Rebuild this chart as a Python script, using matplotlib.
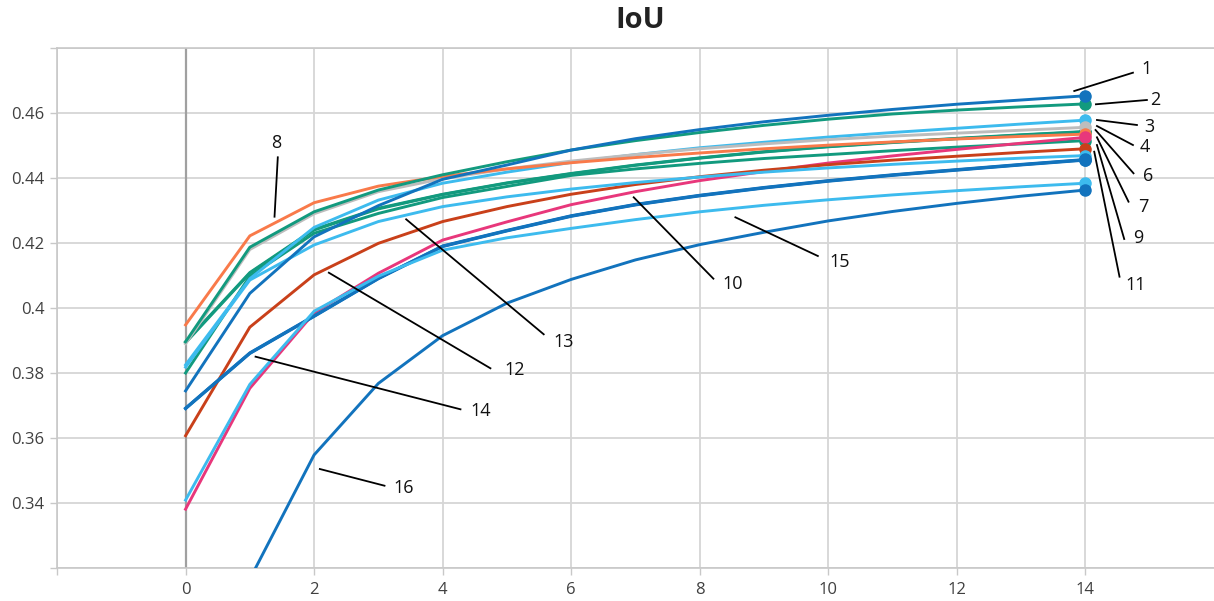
import matplotlib
matplotlib.use("Agg")
import matplotlib.pyplot as plt

# ---------------- data ----------------
epochs = list(range(15))

s1 = [0.3745, 0.4045, 0.4219, 0.4315, 0.4396, 0.4440, 0.4486, 0.4521, 0.4549, 0.4573, 0.4593, 0.4611, 0.4627, 0.4640, 0.4653]
s2 = [0.3896, 0.4187, 0.4296, 0.4363, 0.4410, 0.4450, 0.4486, 0.4515, 0.4540, 0.4562, 0.4581, 0.4597, 0.4609, 0.4619, 0.4628]
s3 = [0.3825, 0.4090, 0.4248, 0.4332, 0.4384, 0.4418, 0.4448, 0.4472, 0.4493, 0.4510, 0.4526, 0.4540, 0.4553, 0.4566, 0.4578]
s4 = [0.3890, 0.4180, 0.4290, 0.4358, 0.4398, 0.4428, 0.4452, 0.4472, 0.4490, 0.4505, 0.4518, 0.4529, 0.4538, 0.4547, 0.4556]
s5 = [0.3893, 0.4107, 0.4240, 0.4305, 0.4349, 0.4384, 0.4413, 0.4439, 0.4461, 0.4480, 0.4496, 0.4509, 0.4521, 0.4532, 0.4542]
s6 = [0.3896, 0.4109, 0.4242, 0.4307, 0.4350, 0.4385, 0.4414, 0.4440, 0.4462, 0.4481, 0.4497, 0.4510, 0.4522, 0.4533, 0.4543]
s7 = [0.3381, 0.3753, 0.3985, 0.4107, 0.4209, 0.4265, 0.4318, 0.4358, 0.4392, 0.4420, 0.4446, 0.4468, 0.4488, 0.4507, 0.4525]
s8 = [0.3948, 0.4222, 0.4324, 0.4375, 0.4405, 0.4428, 0.4447, 0.4463, 0.4477, 0.4490, 0.4501, 0.4511, 0.4520, 0.4528, 0.4535]
s9 = [0.3800, 0.4098, 0.4230, 0.4291, 0.4340, 0.4374, 0.4408, 0.4428, 0.4445, 0.4460, 0.4472, 0.4484, 0.4495, 0.4505, 0.4515]
s10 = [0.3691, 0.3861, 0.3975, 0.4091, 0.4190, 0.4238, 0.4283, 0.4318, 0.4346, 0.4370, 0.4391, 0.4409, 0.4425, 0.4441, 0.4456]
s11 = [0.3692, 0.3862, 0.3976, 0.4092, 0.4191, 0.4239, 0.4284, 0.4319, 0.4347, 0.4371, 0.4392, 0.4410, 0.4426, 0.4442, 0.4457]
s12 = [0.3607, 0.3941, 0.4102, 0.4199, 0.4266, 0.4312, 0.4350, 0.4380, 0.4404, 0.4424, 0.4441, 0.4455, 0.4467, 0.4479, 0.4490]
s13 = [0.3818, 0.4086, 0.4194, 0.4266, 0.4312, 0.4342, 0.4366, 0.4386, 0.4403, 0.4418, 0.4431, 0.4442, 0.4452, 0.4461, 0.4469]
s14 = [0.3690, 0.3860, 0.3974, 0.4090, 0.4189, 0.4237, 0.4282, 0.4317, 0.4345, 0.4369, 0.4390, 0.4408, 0.4424, 0.4440, 0.4455]
s15 = [0.3409, 0.3765, 0.3990, 0.4098, 0.4178, 0.4216, 0.4245, 0.4272, 0.4296, 0.4316, 0.4333, 0.4348, 0.4361, 0.4373, 0.4384]
s16 = [0.2850, 0.3166, 0.3548, 0.3768, 0.3915, 0.4015, 0.4088, 0.4148, 0.4195, 0.4233, 0.4268, 0.4297, 0.4322, 0.4344, 0.4363]

series_names = [str(i) for i in range(1, 17)]
series_values = [s1, s2, s3, s4, s5, s6, s7, s8, s9, s10, s11, s12, s13, s14, s15, s16]

x_tick_values = [-2, 0, 2, 4, 6, 8, 10, 12, 14]
x_tick_labels = ["", "0", "2", "4", "6", "8", "10", "12", "14"]
y_tick_values = [0.32, 0.34, 0.36, 0.38, 0.40, 0.42, 0.44, 0.46, 0.48]
y_tick_labels = ["", "0.34", "0.36", "0.38", "0.4", "0.42", "0.44", "0.46", ""]

# ---------------- styles ----------------
BLUE = "#1273BD"
TEAL = "#129A7E"
LBLUE = "#3DBBEE"
GREY = "#BDBDBD"
ORANGE = "#F97A4A"
PINK = "#E8377B"
RED = "#C9401A"
series_colors = [BLUE, TEAL, LBLUE, GREY, TEAL, TEAL, PINK, ORANGE, TEAL,
                 BLUE, BLUE, RED, LBLUE, BLUE, LBLUE, BLUE]
draw_order = [4, 5, 8, 2, 3, 7, 6, 11, 12, 9, 10, 13, 14, 15, 1, 0]

# label layout: (series, line start, line end, text position) in data coords
label_layout = [
    ("1", (13.826, 0.46677), (14.739, 0.47240), (14.946, 0.47345)),
    ("2", (14.163, 0.46268), (14.956, 0.46400), (15.086, 0.46400)),
    ("3", (14.179, 0.45785), (14.801, 0.45631), (14.997, 0.45578)),
    ("4", (14.179, 0.45600), (14.739, 0.45015), (14.930, 0.44945)),
    ("6", (14.157, 0.45477), (14.748, 0.44145), (14.972, 0.44062)),
    ("7", (14.179, 0.45252), (14.670, 0.43271), (14.894, 0.43117)),
    ("9", (14.179, 0.45015), (14.603, 0.42123), (14.826, 0.42145)),
    ("11", (14.137, 0.44809), (14.530, 0.40963), (14.774, 0.40708)),
    ("8", (1.384, 0.42809), (1.435, 0.44637), (1.415, 0.45068)),
    ("10", (6.972, 0.43406), (8.212, 0.40902), (8.516, 0.40738)),
    ("15", (8.554, 0.42791), (9.837, 0.41600), (10.176, 0.41425)),
    ("13", (3.432, 0.42729), (5.572, 0.39191), (5.883, 0.38963)),
    ("12", (2.229, 0.41086), (4.743, 0.38145), (5.121, 0.38092)),
    ("14", (1.089, 0.38502), (4.277, 0.36883), (4.588, 0.36831)),
    ("16", (2.089, 0.35046), (3.095, 0.34532), (3.390, 0.34462)),
]

plt.rcParams["font.family"] = ["Open Sans", "DejaVu Sans"]

fig = plt.figure(figsize=(12.14, 6.01), dpi=100)
ax = fig.add_axes([57 / 1214, 33 / 601, 1157 / 1214, 520 / 601])
ax.set_xlim(-2, 16)
ax.set_ylim(0.32, 0.48)

ax.set_xticks(x_tick_values)
ax.set_xticklabels(x_tick_labels)
ax.set_yticks(y_tick_values)
ax.set_yticklabels(y_tick_labels)
ax.grid(True, color="#D6D6D6", lw=1.3, zorder=0)
ax.set_axisbelow(True)
ax.spines["right"].set_visible(False)
for side in ["left", "bottom", "top"]:
    ax.spines[side].set_color("#C8C8C8")
    ax.spines[side].set_linewidth(1.2)
ax.tick_params(axis="both", direction="out", length=5, width=1.0,
               color="#C8C8C8", labelcolor="#404040", labelsize=12)
ax.tick_params(axis="x", pad=5)
ax.tick_params(axis="y", pad=4)
ax.axvline(0, color="#A0A0A0", lw=1.6, zorder=1)

for i in draw_order:
    ax.plot(epochs, series_values[i], color=series_colors[i], lw=2.1,
            marker="o", markevery=[len(epochs) - 1], markersize=8,
            solid_joinstyle="round", zorder=3 + draw_order.index(i) * 0.01)

for name, p0, p1, pt in label_layout:
    ax.plot([p0[0], p1[0]], [p0[1], p1[1]], color="black", lw=1.3,
            zorder=5, clip_on=False)
    ax.text(pt[0], pt[1], name, ha="center", va="center", fontsize=13,
            color="#111111", zorder=6)

fig.text(640 / 1214, 1 - 21 / 601, "IoU", ha="center", va="center",
         fontsize=21, fontweight="bold", color="#222222")

fig.savefig("out.png", dpi=100)
